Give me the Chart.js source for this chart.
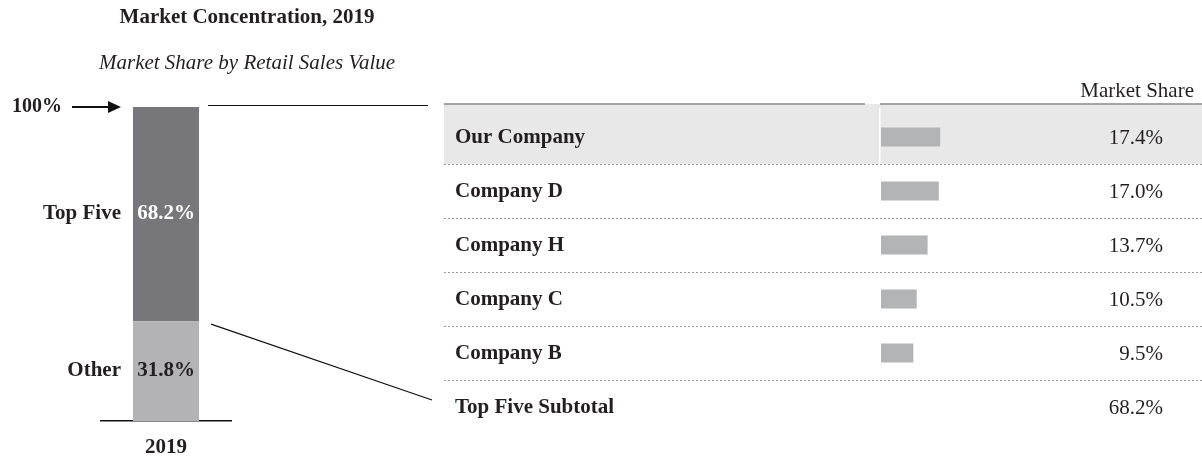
<!DOCTYPE html>
<html>
<head>
<meta charset="utf-8">
<script src="https://cdn.jsdelivr.net/npm/chart.js@4.4.1/dist/chart.umd.min.js"></script>
<style>
  body { margin: 0; background: #fff; }
  #wrap { position: relative; width: 1202px; height: 456px; }
  canvas { position: absolute; left: 0; top: 0; }
</style>
</head>
<body>
<div id="wrap">
  <canvas id="chart-concentration" width="1202" height="456"></canvas>
  <canvas id="chart-top-five" width="1202" height="456"></canvas>
</div>
<script>
// data
const years = ['2019']
const other_share = [31.8]
const top_five_share = [68.2]
const companies = ['Our Company', 'Company D', 'Company H', 'Company C', 'Company B']
const company_share = [17.4, 17.0, 13.7, 10.5, 9.5]
const subtotal_label = 'Top Five Subtotal'
const subtotal_share = [68.2]

const font_family = '"Liberation Serif", "Times New Roman", serif'
const color_text = '#231f20'
const color_dark = '#77777b'
const color_light = '#b3b3b5'

function pct(v) {
    return v.toFixed(1) + '%'
}

// left side: the stacked 2019 column plus titles and connector lines
const concentration_plugin = {
    id: 'concentration_labels',
    afterDatasetsDraw(chart) {
        const ctx = chart.ctx
        const y = chart.scales.y
        const bar = chart.getDatasetMeta(0).data[0]
        const left = bar.x - bar.width / 2
        const right = bar.x + bar.width / 2
        const top = y.getPixelForValue(100)
        const split = y.getPixelForValue(other_share[0])
        const bottom = y.getPixelForValue(0)

        ctx.save()
        ctx.fillStyle = color_text
        ctx.textBaseline = 'middle'

        ctx.textAlign = 'center'
        ctx.font = 'bold 21px ' + font_family
        ctx.fillText('Market Concentration, 2019', 247, 18)
        ctx.font = 'italic 21px ' + font_family
        ctx.fillText('Market Share by Retail Sales Value', 247, 63)

        // 100% arrow
        ctx.textAlign = 'right'
        ctx.font = 'bold 20px ' + font_family
        ctx.fillText('100%', 62, top)
        ctx.strokeStyle = '#111'
        ctx.lineWidth = 2
        ctx.beginPath()
        ctx.moveTo(72, top)
        ctx.lineTo(111, top)
        ctx.stroke()
        ctx.fillStyle = '#111'
        ctx.beginPath()
        ctx.moveTo(121, top)
        ctx.lineTo(108, top - 6)
        ctx.lineTo(108, top + 6)
        ctx.closePath()
        ctx.fill()

        // segment labels
        ctx.font = 'bold 21px ' + font_family
        ctx.fillStyle = color_text
        ctx.fillText('Top Five', left - 12, (top + split) / 2)
        ctx.fillText('Other', left - 12, (split + bottom) / 2)
        ctx.textAlign = 'center'
        ctx.fillStyle = '#fff'
        ctx.fillText(pct(top_five_share[0]), bar.x, (top + split) / 2)
        ctx.fillStyle = color_text
        ctx.fillText(pct(other_share[0]), bar.x, (split + bottom) / 2)

        // connector lines to the table
        ctx.strokeStyle = '#111'
        ctx.lineWidth = 1
        ctx.beginPath()
        ctx.moveTo(right + 9, Math.round(top) - 1.5)
        ctx.lineTo(428, Math.round(top) - 1.5)
        ctx.stroke()
        ctx.lineWidth = 1.2
        ctx.beginPath()
        ctx.moveTo(right + 12, split + 3)
        ctx.lineTo(432, 400)
        ctx.stroke()
        ctx.restore()
    }
}

const concentration_chart = new Chart('chart-concentration', {
    type: 'bar',
    data: {
        labels: years,
        datasets: [
            { label: 'Other', data: other_share, backgroundColor: color_light },
            { label: 'Top Five', data: top_five_share, backgroundColor: color_dark }
        ]
    },
    options: {
        responsive: false,
        animation: false,
        layout: { padding: { left: 101, right: 971, top: 107, bottom: 0 } },
        datasets: { bar: { barPercentage: 0.508, categoryPercentage: 1 } },
        scales: {
            x: {
                stacked: true,
                grid: { display: false },
                border: { color: '#111', width: 1.5 },
                ticks: { color: color_text, padding: 6, font: { family: font_family, size: 21, weight: 'bold' } },
                afterFit(scale) { scale.height = 35 }
            },
            y: { stacked: true, min: 0, max: 100, display: false }
        },
        plugins: { legend: { display: false }, tooltip: { enabled: false } }
    },
    plugins: [concentration_plugin]
})

// right side: table of the top five with small bars
const table_plugin = {
    id: 'table_rows',
    beforeDatasetsDraw(chart) {
        const ctx = chart.ctx
        const y = chart.scales.y
        const row_h = y.height / chart.data.labels.length
        const first = y.getPixelForValue(0)
        const header_y = first - row_h / 2 - 6

        ctx.save()
        // highlight for our company
        ctx.fillStyle = '#e8e8e8'
        ctx.fillRect(444, header_y, 1202 - 444, first + row_h / 2 - header_y)
        ctx.fillStyle = '#fff'
        ctx.fillRect(879, header_y + 4, 1.5, first + row_h / 2 - header_y - 4)

        // header line
        ctx.strokeStyle = '#8a8a8a'
        ctx.lineWidth = 1.5
        ctx.beginPath()
        ctx.moveTo(444, header_y)
        ctx.lineTo(865, header_y)
        ctx.moveTo(880, header_y)
        ctx.lineTo(1202, header_y)
        ctx.stroke()

        // dotted separators
        ctx.strokeStyle = '#9a9a9a'
        ctx.lineWidth = 1
        ctx.setLineDash([2, 2])
        for (let i = 0; i < chart.data.labels.length - 1; i++) {
            const sy = Math.round(y.getPixelForValue(i) + row_h / 2) + 0.5
            ctx.beginPath()
            ctx.moveTo(444, sy)
            ctx.lineTo(1202, sy)
            ctx.stroke()
        }
        ctx.setLineDash([])

        ctx.fillStyle = color_text
        ctx.textBaseline = 'middle'
        ctx.textAlign = 'right'
        ctx.font = '21px ' + font_family
        ctx.fillText('Market Share', 1194, header_y - 13)

        const values = company_share.concat(subtotal_share)
        chart.data.labels.forEach((label, i) => {
            const cy = y.getPixelForValue(i) + 1
            ctx.textAlign = 'left'
            ctx.font = 'bold 21px ' + font_family
            ctx.fillText(label, 455, cy)
            ctx.textAlign = 'right'
            ctx.font = '21px ' + font_family
            ctx.fillText(pct(values[i]), 1163, cy)
        })
        ctx.restore()
    }
}

const table_chart = new Chart('chart-top-five', {
    type: 'bar',
    data: {
        labels: companies.concat([subtotal_label]),
        datasets: [{
            data: company_share.concat([null]),
            backgroundColor: '#b3b4b6',
            barPercentage: 0.35,
            categoryPercentage: 1
        }]
    },
    options: {
        indexAxis: 'y',
        responsive: false,
        animation: false,
        layout: { padding: { left: 881, right: 151, top: 110, bottom: 22 } },
        scales: {
            x: { min: 0, max: 50, display: false },
            y: { display: false }
        },
        plugins: { legend: { display: false }, tooltip: { enabled: false } }
    },
    plugins: [table_plugin]
})
</script>
</body>
</html>
